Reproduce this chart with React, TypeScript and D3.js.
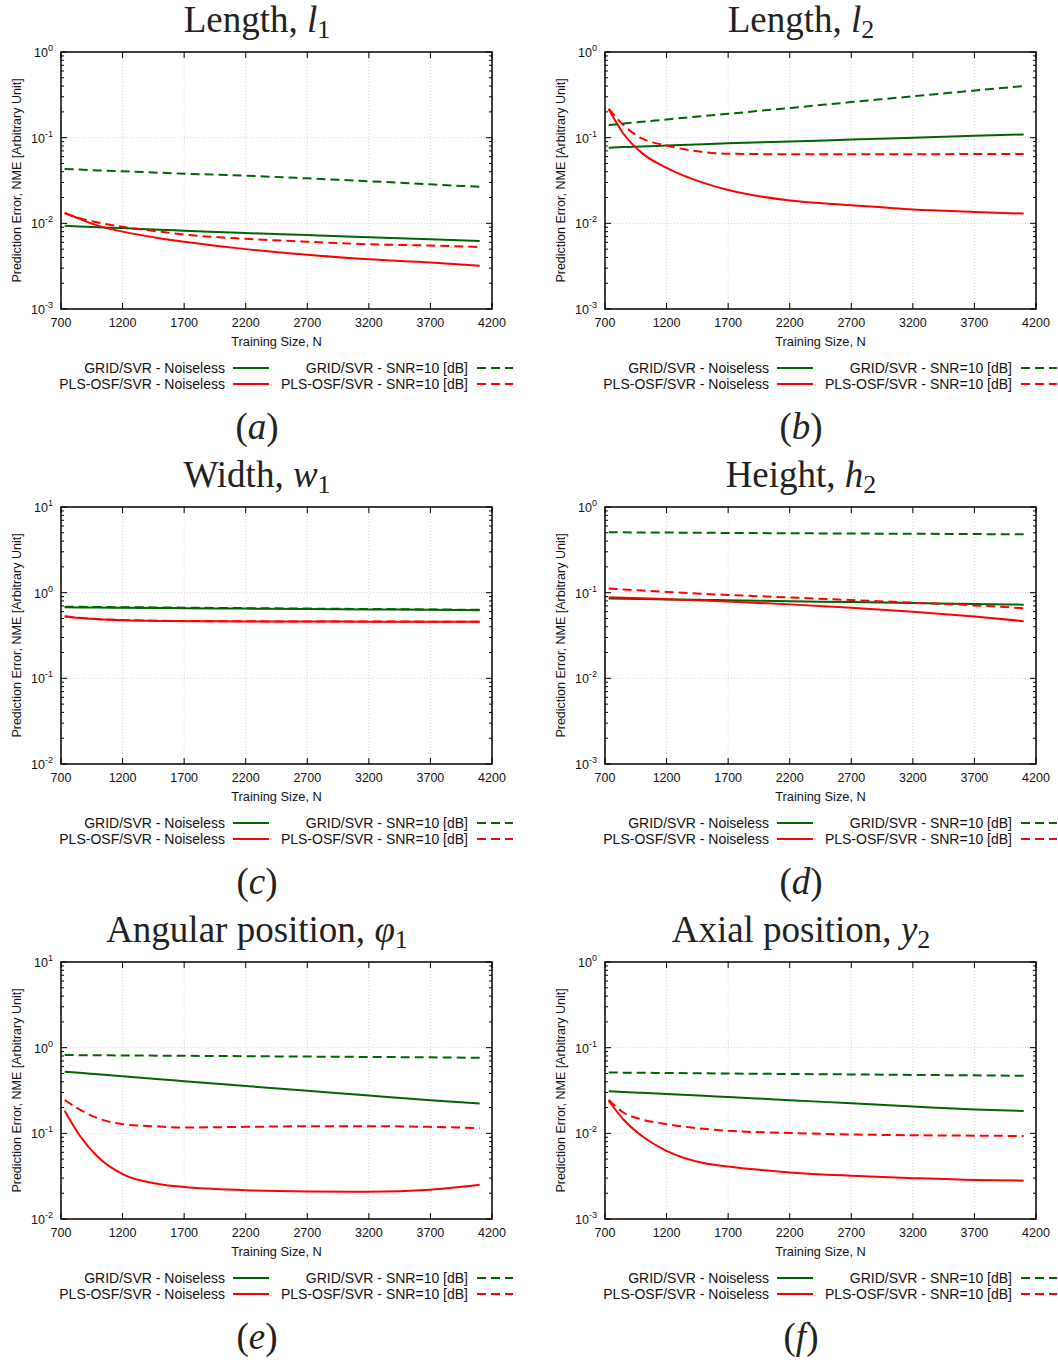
import React from "react";
import * as d3 from "d3";

// ---------- data ----------
const trainingSizes = [730, 850, 1000, 1200, 1500, 1700, 2200, 2700, 3200, 3700, 4100];
const xTickValues = [700, 1200, 1700, 2200, 2700, 3200, 3700, 4200];
const seriesNames = [
  "GRID/SVR - Noiseless",
  "PLS-OSF/SVR - Noiseless",
  "GRID/SVR - SNR=10 [dB]",
  "PLS-OSF/SVR - SNR=10 [dB]",
];

// (a) Length l1
const l1GridNoiseless = [0.0094, 0.0092, 0.009, 0.0088, 0.0084, 0.0082, 0.0077, 0.0073, 0.0069, 0.0065, 0.0062];
const l1PlsNoiseless = [0.0133, 0.0113, 0.0094, 0.008, 0.0067, 0.0061, 0.005, 0.0043, 0.0038, 0.0035, 0.0032];
const l1GridSnr = [0.043, 0.0425, 0.0415, 0.0405, 0.039, 0.038, 0.036, 0.0335, 0.031, 0.0285, 0.0267];
const l1PlsSnr = [0.0131, 0.0115, 0.0102, 0.0091, 0.008, 0.0074, 0.0066, 0.0061, 0.0057, 0.0055, 0.0053];

// (b) Length l2
const l2GridNoiseless = [0.0765, 0.078, 0.079, 0.081, 0.084, 0.086, 0.09, 0.095, 0.1, 0.105, 0.109];
const l2PlsNoiseless = [0.214, 0.111, 0.066, 0.0445, 0.0297, 0.0245, 0.0185, 0.0163, 0.0145, 0.0136, 0.013];
const l2GridSnr = [0.14, 0.146, 0.153, 0.163, 0.179, 0.19, 0.222, 0.26, 0.304, 0.355, 0.4];
const l2PlsSnr = [0.218, 0.14, 0.098, 0.081, 0.068, 0.065, 0.064, 0.064, 0.064, 0.0645, 0.0646];

// (c) Width w1
const w1GridNoiseless = [0.675, 0.673, 0.67, 0.667, 0.662, 0.659, 0.652, 0.645, 0.638, 0.631, 0.625];
const w1PlsNoiseless = [0.526, 0.505, 0.49, 0.477, 0.468, 0.465, 0.462, 0.46, 0.459, 0.458, 0.457];
const w1GridSnr = [0.685, 0.683, 0.68, 0.677, 0.672, 0.668, 0.66, 0.652, 0.645, 0.637, 0.63];
const w1PlsSnr = [0.53, 0.508, 0.493, 0.48, 0.47, 0.467, 0.463, 0.461, 0.46, 0.459, 0.458];

// (d) Height h2
const h2GridNoiseless = [0.0855, 0.085, 0.0844, 0.0835, 0.0823, 0.0815, 0.0795, 0.0776, 0.0757, 0.0739, 0.0724];
const h2PlsNoiseless = [0.0885, 0.087, 0.086, 0.084, 0.081, 0.0787, 0.073, 0.0668, 0.06, 0.0526, 0.0465];
const h2GridSnr = [0.507, 0.506, 0.505, 0.503, 0.5, 0.498, 0.494, 0.49, 0.487, 0.483, 0.48];
const h2PlsSnr = [0.112, 0.109, 0.106, 0.102, 0.097, 0.094, 0.088, 0.082, 0.0765, 0.071, 0.0658];

// (e) Angular position phi1
const phiGridNoiseless = [0.523, 0.508, 0.488, 0.463, 0.428, 0.406, 0.357, 0.314, 0.276, 0.243, 0.2225];
const phiPlsNoiseless = [0.183, 0.095, 0.053, 0.0334, 0.0255, 0.0236, 0.0217, 0.021, 0.0208, 0.022, 0.0251];
const phiGridSnr = [0.82, 0.818, 0.815, 0.812, 0.806, 0.803, 0.795, 0.787, 0.779, 0.771, 0.762];
const phiPlsSnr = [0.245, 0.19, 0.15, 0.128, 0.12, 0.117, 0.119, 0.121, 0.121, 0.119, 0.115];

// (f) Axial position y2
const y2GridNoiseless = [0.031, 0.0304, 0.0297, 0.0288, 0.0274, 0.0265, 0.0244, 0.0224, 0.0206, 0.019, 0.0182];
const y2PlsNoiseless = [0.024, 0.0145, 0.0093, 0.00625, 0.0045, 0.0041, 0.0035, 0.0032, 0.003, 0.00285, 0.0028];
const y2GridSnr = [0.0513, 0.0511, 0.0509, 0.0506, 0.0502, 0.0499, 0.0493, 0.0487, 0.0481, 0.0475, 0.0469];
const y2PlsSnr = [0.0246, 0.0175, 0.0145, 0.0128, 0.0113, 0.0107, 0.0101, 0.0097, 0.0095, 0.0094, 0.0093];

const panelTitles = ["Length, ", "Length, ", "Width, ", "Height, ", "Angular position, ", "Axial position, "];
const panelSymbols = ["l", "l", "w", "h", "\u03C6", "y"];
const panelSubscripts = ["1", "2", "1", "2", "1", "2"];
const panelLetters = ["a", "b", "c", "d", "e", "f"];
const panelDomains: [number, number][] = [
  [1e-3, 1], [1e-3, 1], [1e-2, 10], [1e-3, 1], [1e-2, 10], [1e-3, 1],
];
const panelSeries = [
  [l1GridNoiseless, l1PlsNoiseless, l1GridSnr, l1PlsSnr],
  [l2GridNoiseless, l2PlsNoiseless, l2GridSnr, l2PlsSnr],
  [w1GridNoiseless, w1PlsNoiseless, w1GridSnr, w1PlsSnr],
  [h2GridNoiseless, h2PlsNoiseless, h2GridSnr, h2PlsSnr],
  [phiGridNoiseless, phiPlsNoiseless, phiGridSnr, phiPlsSnr],
  [y2GridNoiseless, y2PlsNoiseless, y2GridSnr, y2PlsSnr],
];

// ---------- styling ----------
const GREEN = "#006400";
const RED = "#ff0000";
const seriesColors = [GREEN, RED, GREEN, RED];
const seriesDash = [null, null, "9,5", "9,5"];
const SANS = "'Liberation Sans', Arial, Helvetica, sans-serif";
const SERIF = "'Liberation Serif', 'Times New Roman', serif";

const COLS = [61, 605];
const ROWS = [52, 507, 962];
const PW = 431;
const PH = 257;

function Panel({ idx }: { idx: number }) {
  const x0 = COLS[idx % 2];
  const y0 = ROWS[Math.floor(idx / 2)];
  const x = d3.scaleLinear().domain([700, 4200]).range([x0, x0 + PW]);
  const [lo, hi] = panelDomains[idx];
  const y = d3.scaleLog().domain([lo, hi]).range([y0 + PH, y0]);
  const decades: number[] = [];
  for (let e = Math.round(Math.log10(lo)); e <= Math.round(Math.log10(hi)); e++) decades.push(e);
  const minors: number[] = [];
  decades.slice(0, -1).forEach((e) => {
    for (let m = 2; m <= 9; m++) minors.push(m * Math.pow(10, e));
  });
  const line = d3
    .line<number>()
    .x((_, i) => x(trainingSizes[i]))
    .y((v) => y(v))
    .curve(d3.curveMonotoneX);
  const series = panelSeries[idx];
  const colCenter = x0 + 196;
  const legendRows = [
    [0, 2],
    [1, 3],
  ];
  return (
    <g>
      {/* grid */}
      {xTickValues.slice(1, -1).map((t) => (
        <line key={"gx" + t} x1={x(t)} x2={x(t)} y1={y0} y2={y0 + PH} stroke="#cccccc" strokeWidth={0.8} strokeDasharray="1,2" />
      ))}
      {decades.slice(1, -1).map((e) => (
        <line key={"gy" + e} x1={x0} x2={x0 + PW} y1={y(Math.pow(10, e))} y2={y(Math.pow(10, e))} stroke="#cccccc" strokeWidth={0.8} strokeDasharray="1,2" />
      ))}
      {/* ticks */}
      {xTickValues.map((t) => (
        <g key={"xt" + t}>
          <line x1={x(t)} x2={x(t)} y1={y0 + PH} y2={y0 + PH - 6} stroke="#000" strokeWidth={1} />
          <line x1={x(t)} x2={x(t)} y1={y0} y2={y0 + 6} stroke="#000" strokeWidth={1} />
          <text x={x(t)} y={y0 + PH + 18} fontFamily={SANS} fontSize={12.5} textAnchor="middle" fill="#111">
            {t}
          </text>
        </g>
      ))}
      {decades.map((e) => (
        <g key={"yt" + e}>
          <line x1={x0} x2={x0 + 6} y1={y(Math.pow(10, e))} y2={y(Math.pow(10, e))} stroke="#000" strokeWidth={1} />
          <line x1={x0 + PW} x2={x0 + PW - 6} y1={y(Math.pow(10, e))} y2={y(Math.pow(10, e))} stroke="#000" strokeWidth={1} />
          <text x={x0 - 8} y={y(Math.pow(10, e)) + 5} fontFamily={SANS} fontSize={12.5} textAnchor="end" fill="#111">
            10
            <tspan fontSize={9} dy={-6}>
              {e}
            </tspan>
          </text>
        </g>
      ))}
      {minors.map((m, i) => (
        <g key={"ym" + i}>
          <line x1={x0} x2={x0 + 3} y1={y(m)} y2={y(m)} stroke="#000" strokeWidth={1} />
          <line x1={x0 + PW} x2={x0 + PW - 3} y1={y(m)} y2={y(m)} stroke="#000" strokeWidth={1} />
        </g>
      ))}
      {/* series */}
      {series.map((vals, si) => (
        <path
          key={"s" + si}
          d={line(vals) || ""}
          fill="none"
          stroke={seriesColors[si]}
          strokeWidth={2}
          strokeDasharray={seriesDash[si] || undefined}
        />
      ))}
      {/* frame */}
      <rect x={x0} y={y0} width={PW} height={PH} fill="none" stroke="#000" strokeWidth={1.5} />
      {/* labels */}
      <text x={x0 + PW / 2} y={y0 + PH + 37} fontFamily={SANS} fontSize={12.8} textAnchor="middle" fill="#111">
        Training Size, N
      </text>
      <text
        transform={`translate(${x0 - 40},${y0 + PH / 2}) rotate(-90)`}
        fontFamily={SANS}
        fontSize={12.5}
        textAnchor="middle"
        fill="#111"
      >
        Prediction Error, NME [Arbitrary Unit]
      </text>
      {/* legend */}
      {legendRows.map((row, ri) =>
        row.map((si, ci) => {
          const textEnd = x0 + (ci === 0 ? 164 : 407);
          const lx1 = x0 + (ci === 0 ? 172 : 416);
          const ly = y0 + PH + 59 + ri * 16;
          return (
            <g key={"lg" + si}>
              <text x={textEnd} y={ly + 5} fontFamily={SANS} fontSize={14} textAnchor="end" fill="#111">
                {seriesNames[si]}
              </text>
              <line x1={lx1} x2={lx1 + 36} y1={ly} y2={ly} stroke={seriesColors[si]} strokeWidth={2} strokeDasharray={seriesDash[si] || undefined} />
            </g>
          );
        })
      )}
      {/* title */}
      <text x={colCenter} y={y0 - 20} fontFamily={SERIF} fontSize={37} textAnchor="middle" fill="#222">
        {panelTitles[idx]}
        <tspan fontStyle="italic">{panelSymbols[idx]}</tspan>
        <tspan fontSize={26} dy={6}>
          {panelSubscripts[idx]}
        </tspan>
      </text>
      {/* sub caption */}
      <text x={colCenter} y={y0 + 387} fontFamily={SERIF} fontSize={37} textAnchor="middle" fill="#222">
        (<tspan fontStyle="italic">{panelLetters[idx]}</tspan>)
      </text>
    </g>
  );
}

export default function App() {
  return (
    <div style={{ position: "absolute", left: 0, top: 0, width: 1058, height: 1362, background: "#fff" }}>
      <svg width={1058} height={1362} viewBox="0 0 1058 1362" style={{ display: "block" }}>
        <rect x={0} y={0} width={1058} height={1362} fill="#fff" />
        {panelTitles.map((_, i) => (
          <Panel key={i} idx={i} />
        ))}
      </svg>
    </div>
  );
}
